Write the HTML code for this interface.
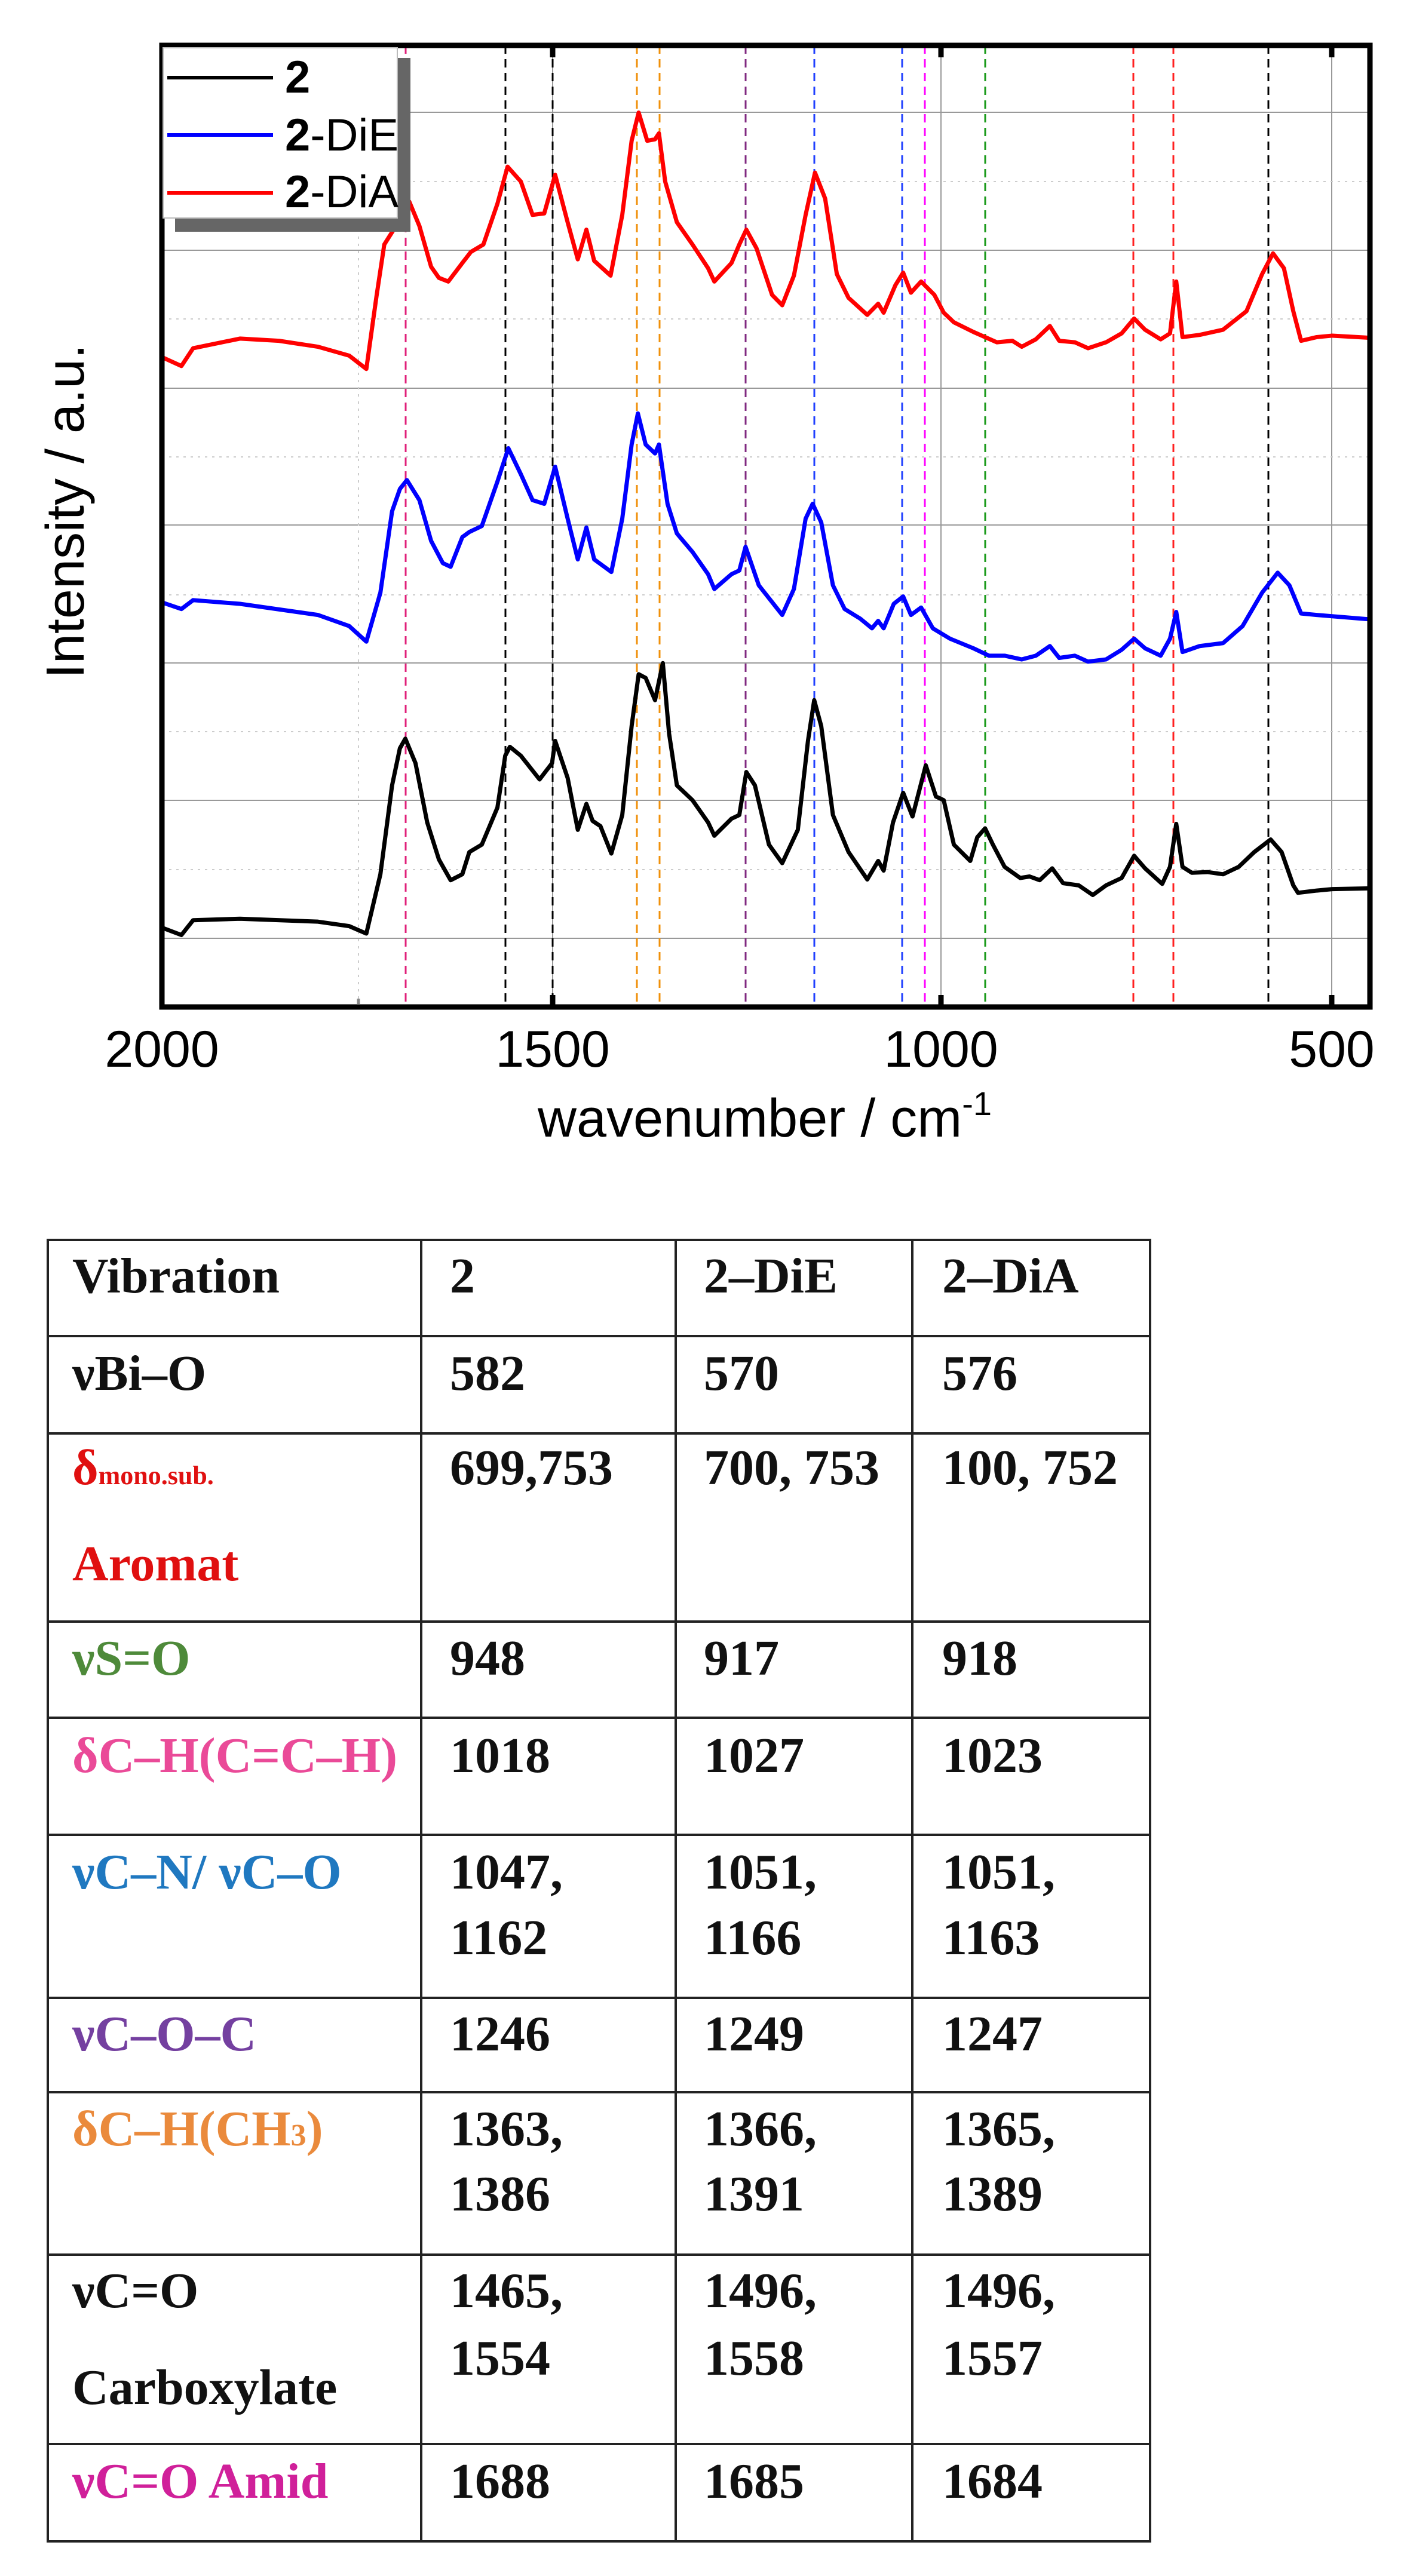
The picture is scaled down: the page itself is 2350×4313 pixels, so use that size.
<!DOCTYPE html>
<html><head><meta charset="utf-8"><style>
html,body{margin:0;padding:0;background:#fff}
svg{display:block}
.t{font-family:"Liberation Serif",serif;font-weight:bold;font-size:84px}
</style></head><body>
<svg width="2350" height="4313" viewBox="0 0 2350 4313" xmlns="http://www.w3.org/2000/svg">
<rect width="2350" height="4313" fill="#fff"/>
<g stroke="#999" stroke-width="2">
<line x1="271" y1="188" x2="2294" y2="188"/><line x1="271" y1="419" x2="2294" y2="419"/>
<line x1="271" y1="650" x2="2294" y2="650"/><line x1="271" y1="879" x2="2294" y2="879"/>
<line x1="271" y1="1110" x2="2294" y2="1110"/><line x1="271" y1="1340" x2="2294" y2="1340"/>
<line x1="271" y1="1571" x2="2294" y2="1571"/>
<line x1="925" y1="72" x2="925" y2="1686"/><line x1="1575" y1="72" x2="1575" y2="1686"/><line x1="2229" y1="72" x2="2229" y2="1686"/>
</g>
<g stroke="#ccc" stroke-width="2" stroke-dasharray="4 8">
<line x1="271" y1="304" x2="2294" y2="304"/><line x1="271" y1="534" x2="2294" y2="534"/>
<line x1="271" y1="765" x2="2294" y2="765"/><line x1="271" y1="996" x2="2294" y2="996"/>
<line x1="271" y1="1225" x2="2294" y2="1225"/><line x1="271" y1="1456" x2="2294" y2="1456"/>
<line x1="600" y1="72" x2="600" y2="1686"/>
</g>
<g stroke-width="3" stroke-dasharray="14 9">
<line x1="679" y1="76" x2="679" y2="1684" stroke="#e0207a"/>
<line x1="846" y1="76" x2="846" y2="1684" stroke="#000"/>
<line x1="925" y1="76" x2="925" y2="1684" stroke="#000"/>
<line x1="1066" y1="76" x2="1066" y2="1684" stroke="#f0900a"/>
<line x1="1104" y1="76" x2="1104" y2="1684" stroke="#f0900a"/>
<line x1="1248" y1="76" x2="1248" y2="1684" stroke="#802a80"/>
<line x1="1363" y1="76" x2="1363" y2="1684" stroke="#2040ff"/>
<line x1="1510" y1="76" x2="1510" y2="1684" stroke="#2040ff"/>
<line x1="1548" y1="76" x2="1548" y2="1684" stroke="#ff00ff"/>
<line x1="1649" y1="76" x2="1649" y2="1684" stroke="#1a9a1a"/>
<line x1="1897" y1="76" x2="1897" y2="1684" stroke="#ff2020"/>
<line x1="1964" y1="76" x2="1964" y2="1684" stroke="#ff2020"/>
<line x1="2123" y1="76" x2="2123" y2="1684" stroke="#000"/>
</g>
<g transform="matrix(-1.306 0 0 1.2405 2883 0)" fill="none" stroke-width="7" stroke-linejoin="round" stroke-linecap="round">
<polyline vector-effect="non-scaling-stroke" stroke="#000" points="2000,1252 1975,1262 1960,1242 1900,1240 1800,1244 1760,1250 1738,1260 1720,1180 1705,1060 1695,1010 1688,997 1675,1030 1660,1110 1645,1160 1630,1188 1615,1180 1606,1150 1590,1140 1570,1090 1560,1020 1554,1008 1540,1020 1516,1052 1500,1030 1496,1000 1480,1050 1467,1120 1456,1085 1448,1108 1438,1115 1424,1152 1410,1100 1398,980 1389,910 1380,915 1368,945 1358,895 1350,990 1340,1060 1320,1080 1300,1110 1292,1128 1270,1105 1260,1100 1251,1042 1240,1060 1222,1140 1205,1165 1185,1120 1172,1000 1164,945 1155,980 1140,1100 1120,1150 1096,1187 1082,1162 1075,1175 1063,1110 1050,1070 1038,1102 1021,1033 1008,1075 998,1080 985,1140 964,1162 955,1130 945,1118 935,1140 920,1170 900,1185 888,1183 875,1188 859,1172 845,1192 825,1195 807,1208 790,1195 770,1185 754,1155 740,1172 718,1193 708,1170 700,1112 692,1170 680,1178 660,1177 640,1180 620,1170 600,1150 579,1133 565,1150 550,1195 544,1205 520,1202 500,1200 451,1199"/>
<polyline vector-effect="non-scaling-stroke" stroke="#0000ff" points="2000,813 1975,822 1960,810 1900,815 1800,830 1760,845 1738,866 1720,800 1705,690 1695,660 1686,648 1670,675 1655,730 1640,760 1630,765 1615,725 1606,718 1590,710 1570,650 1556,605 1540,640 1525,675 1510,680 1496,630 1480,700 1467,755 1456,712 1446,755 1424,772 1410,700 1398,600 1390,558 1380,600 1368,612 1363,600 1352,680 1340,720 1320,745 1300,775 1292,795 1270,775 1260,770 1252,738 1235,790 1205,830 1190,795 1175,700 1166,680 1155,705 1140,790 1125,822 1105,835 1090,848 1082,838 1075,848 1062,815 1050,805 1040,830 1027,820 1012,848 990,862 960,875 940,885 920,885 898,890 880,885 862,872 850,888 830,885 813,893 790,890 770,877 754,862 740,875 720,885 708,862 700,826 692,880 670,872 640,868 615,845 590,800 570,773 555,790 540,828 520,830 451,836"/>
<polyline vector-effect="non-scaling-stroke" stroke="#ff0000" points="2000,482 1975,494 1960,470 1900,457 1850,460 1800,468 1760,480 1738,498 1725,400 1715,330 1700,305 1690,282 1683,272 1670,305 1655,360 1645,375 1633,380 1615,355 1604,340 1588,330 1570,275 1557,225 1540,245 1525,290 1510,288 1496,236 1480,300 1467,350 1456,310 1446,352 1425,372 1410,290 1398,190 1389,152 1378,190 1368,188 1363,180 1355,245 1340,300 1320,330 1300,362 1292,380 1270,355 1260,330 1251,310 1238,335 1218,398 1205,412 1190,372 1175,290 1163,233 1150,268 1135,370 1120,402 1096,425 1082,410 1075,422 1060,385 1050,368 1040,395 1027,380 1010,398 998,422 985,435 960,448 930,462 910,460 898,468 880,458 862,440 850,460 830,462 813,470 790,462 770,450 754,430 740,445 720,458 708,450 700,380 692,455 670,452 640,445 610,420 590,370 576,342 562,362 550,420 540,460 520,455 500,453 451,456"/>
</g>
<rect x="271" y="76" width="2022" height="1610" fill="none" stroke="#000" stroke-width="9"/>
<g stroke="#000" stroke-width="9">
<line x1="925" y1="76" x2="925" y2="96"/><line x1="1575" y1="76" x2="1575" y2="96"/><line x1="2229" y1="76" x2="2229" y2="96"/>
<line x1="925" y1="1686" x2="925" y2="1666"/><line x1="1575" y1="1686" x2="1575" y2="1666"/><line x1="2229" y1="1686" x2="2229" y2="1666"/>
</g>
<g stroke="#888" stroke-width="5"><line x1="600" y1="80" x2="600" y2="90"/><line x1="600" y1="1682" x2="600" y2="1672"/></g>
<rect x="293" y="97" width="394" height="291" fill="#666"/>
<rect x="273" y="80" width="392" height="285" fill="#fff" stroke="#bbb" stroke-width="2"/>
<g stroke-width="6"><line x1="280" y1="130" x2="457" y2="130" stroke="#000"/><line x1="280" y1="226" x2="457" y2="226" stroke="#0000ff"/><line x1="280" y1="323" x2="457" y2="323" stroke="#ff0000"/></g>
<g font-family="Liberation Sans, sans-serif" font-size="76" fill="#000">
<text x="477" y="155" font-weight="bold">2</text>
<text x="477" y="252"><tspan font-weight="bold">2</tspan>-DiE</text>
<text x="477" y="347"><tspan font-weight="bold">2</tspan>-DiA</text>
</g>
<g font-family="Liberation Sans, sans-serif" font-size="86" fill="#000" text-anchor="middle">
<text x="271" y="1786">2000</text><text x="925" y="1786">1500</text><text x="1575" y="1786">1000</text><text x="2229" y="1786">500</text>
</g>
<text x="1280" y="1903" font-family="Liberation Sans, sans-serif" font-size="90" text-anchor="middle">wavenumber / cm<tspan font-size="56" dy="-36">-1</tspan></text>
<text transform="translate(140,856) rotate(-90)" font-family="Liberation Sans, sans-serif" font-size="90" text-anchor="middle">Intensity / a.u.</text>
<g stroke="#222" stroke-width="4" fill="none">
<rect x="80" y="2076" width="1845" height="2179"/>
<line x1="705" y1="2076" x2="705" y2="4255"/><line x1="1131" y1="2076" x2="1131" y2="4255"/><line x1="1527" y1="2076" x2="1527" y2="4255"/>
<line x1="80" y1="2237" x2="1925" y2="2237"/><line x1="80" y1="2400" x2="1925" y2="2400"/>
<line x1="80" y1="2715" x2="1925" y2="2715"/><line x1="80" y1="2876" x2="1925" y2="2876"/>
<line x1="80" y1="3072" x2="1925" y2="3072"/><line x1="80" y1="3345" x2="1925" y2="3345"/>
<line x1="80" y1="3503" x2="1925" y2="3503"/><line x1="80" y1="3775" x2="1925" y2="3775"/>
<line x1="80" y1="4092" x2="1925" y2="4092"/>
</g>
<g class="t" fill="#111">
<text x="121" y="2164">Vibration</text><text x="753" y="2164">2</text><text x="1178" y="2164">2–DiE</text><text x="1577" y="2164">2–DiA</text>
<text x="121" y="2327">νBi–O</text><text x="753" y="2327">582</text><text x="1178" y="2327">570</text><text x="1577" y="2327">576</text>
<text x="121" y="2485" fill="#e01010">δ<tspan font-size="44">mono.sub.</tspan></text><text x="121" y="2646" fill="#e01010">Aromat</text>
<text x="753" y="2485">699,753</text><text x="1178" y="2485">700, 753</text><text x="1577" y="2485">100, 752</text>
<text x="121" y="2804" fill="#4e8a3a">νS=O</text><text x="753" y="2804">948</text><text x="1178" y="2804">917</text><text x="1577" y="2804">918</text>
<text x="121" y="2967" fill="#ea4a98">δC–H(C=C–H)</text><text x="753" y="2967">1018</text><text x="1178" y="2967">1027</text><text x="1577" y="2967">1023</text>
<text x="121" y="3162" fill="#1f78c0">νC–N/ νC–O</text><text x="753" y="3162">1047,</text><text x="1178" y="3162">1051,</text><text x="1577" y="3162">1051,</text>
<text x="753" y="3272">1162</text><text x="1178" y="3272">1166</text><text x="1577" y="3272">1163</text>
<text x="121" y="3433" fill="#7440a0">νC–O–C</text><text x="753" y="3433">1246</text><text x="1178" y="3433">1249</text><text x="1577" y="3433">1247</text>
<text x="121" y="3592" fill="#ea8a3c">δC–H(CH<tspan font-size="52">3</tspan>)</text><text x="753" y="3592">1363,</text><text x="1178" y="3592">1366,</text><text x="1577" y="3592">1365,</text>
<text x="753" y="3701">1386</text><text x="1178" y="3701">1391</text><text x="1577" y="3701">1389</text>
<text x="121" y="3863">νC=O</text><text x="121" y="4025">Carboxylate</text>
<text x="753" y="3863">1465,</text><text x="1178" y="3863">1496,</text><text x="1577" y="3863">1496,</text>
<text x="753" y="3976">1554</text><text x="1178" y="3976">1558</text><text x="1577" y="3976">1557</text>
<text x="121" y="4182" fill="#d0209a">νC=O Amid</text><text x="753" y="4182">1688</text><text x="1178" y="4182">1685</text><text x="1577" y="4182">1684</text>
</g>
</svg>
</body></html>
